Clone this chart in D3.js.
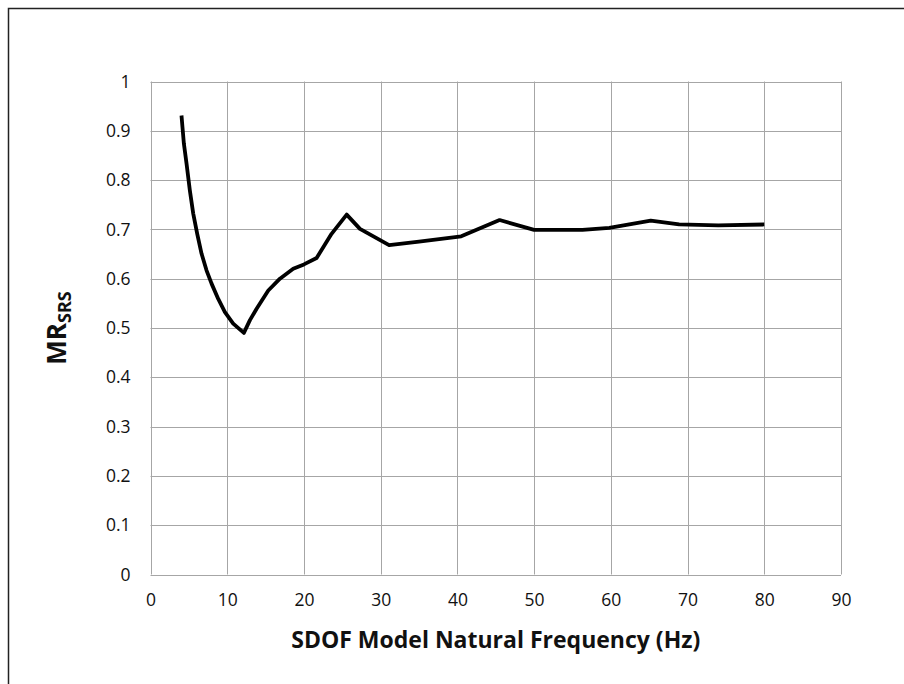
<!DOCTYPE html>
<html>
<head>
<meta charset="utf-8">
<script src="https://cdn.jsdelivr.net/npm/d3@7"></script>
<style>
  html, body { margin: 0; padding: 0; background: #fff; }
  svg { display: block; }
</style>
</head>
<body>
<svg id="chart" width="904" height="684"></svg>
<script>
// ---- data ----
const freqHz = [4.04, 4.17, 4.35, 4.70, 5.13, 5.57, 6.09, 6.65, 7.30, 7.96, 8.83, 9.70, 10.78, 12.17, 12.96, 13.83, 15.35, 16.87, 18.6, 20.0, 21.65, 23.6, 25.57, 27.3, 31.1, 35.0, 40.5, 45.5, 50.0, 56.3, 59.8, 65.2, 68.9, 74.0, 80.0];
const mrSRS  = [0.931, 0.907, 0.874, 0.833, 0.779, 0.732, 0.691, 0.651, 0.617, 0.590, 0.559, 0.532, 0.509, 0.490, 0.516, 0.539, 0.576, 0.600, 0.620, 0.629, 0.642, 0.691, 0.730, 0.701, 0.668, 0.675, 0.686, 0.719, 0.699, 0.699, 0.703, 0.718, 0.710, 0.708, 0.710];
const xTicks = [0, 10, 20, 30, 40, 50, 60, 70, 80, 90];
const yTicks = [0, 0.1, 0.2, 0.3, 0.4, 0.5, 0.6, 0.7, 0.8, 0.9, 1];
const xTitle = "SDOF Model Natural Frequency (Hz)";

// ---- layout ----
const svg = d3.select("#chart");
const L = 150.5, T = 81.5, W = 690.5, H = 493;
const font = "'Open Sans', 'Noto Sans', sans-serif";

// outer frame (only left & top visible)
svg.append("rect").attr("x", 8.5).attr("y", 8.5).attr("width", 1000).attr("height", 1000)
  .attr("fill", "none").attr("stroke", "#222").attr("stroke-width", 1.5);

const x = d3.scaleLinear().domain([0, 90]).range([L, L + W]);
const y = d3.scaleLinear().domain([0, 1]).range([T + H, T]);

const g = svg.append("g");

// gridlines
g.append("g").selectAll("line").data(xTicks).join("line")
  .attr("x1", d => Math.round(x(d)) + 0.5).attr("x2", d => Math.round(x(d)) + 0.5)
  .attr("y1", T).attr("y2", T + H)
  .attr("stroke", "#a6a6a6").attr("stroke-width", 1);
g.append("g").selectAll("line").data(yTicks).join("line")
  .attr("y1", d => Math.round(y(d)) + 0.5).attr("y2", d => Math.round(y(d)) + 0.5)
  .attr("x1", L).attr("x2", L + W)
  .attr("stroke", "#a6a6a6").attr("stroke-width", 1);

// axes labels via d3 axes (no lines)
const xAxis = g.append("g").attr("transform", `translate(0,${T + H})`)
  .call(d3.axisBottom(x).tickValues(xTicks).tickSize(0).tickPadding(19).tickFormat(d3.format("d")));
const yAxis = g.append("g").attr("transform", `translate(${L},0)`)
  .call(d3.axisLeft(y).tickValues(yTicks).tickSize(0).tickPadding(20).tickFormat(d => d === 0 || d === 1 ? String(d) : d3.format(".1f")(d)));
[xAxis, yAxis].forEach(a => {
  a.select(".domain").remove();
  a.selectAll("text").attr("font-family", font).attr("font-size", 17.5).attr("fill", "#111");
});

// line
g.append("path").datum(freqHz.map((f, i) => [f, mrSRS[i]]))
  .attr("fill", "none").attr("stroke", "#000").attr("stroke-width", 3.8)
  .attr("stroke-linejoin", "round").attr("stroke-linecap", "butt")
  .attr("d", d3.line().x(d => x(d[0])).y(d => y(d[1])));

// x title
svg.append("text").attr("x", L + W / 2).attr("y", 648)
  .attr("text-anchor", "middle").attr("font-family", font).attr("font-weight", "bold")
  .attr("font-size", 23).attr("fill", "#111").text(xTitle);

// y title MR_SRS
const yt = svg.append("text").attr("transform", `translate(66,${T + H / 2}) rotate(-90)`)
  .attr("text-anchor", "middle").attr("font-family", font).attr("font-weight", "bold").attr("fill", "#111");
yt.append("tspan").attr("font-size", 26).text("MR");
yt.append("tspan").attr("font-size", 18).attr("dy", 5).text("SRS");
</script>
</body>
</html>
